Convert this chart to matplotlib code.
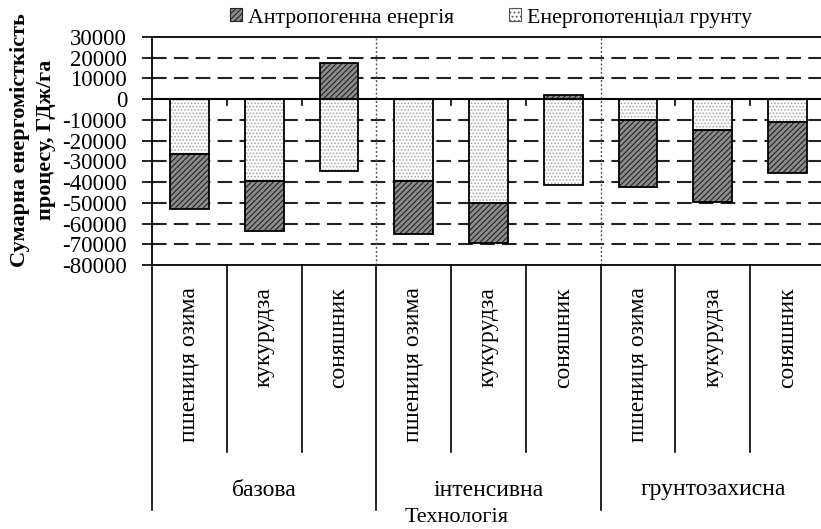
import numpy as np
import matplotlib
matplotlib.use("Agg")
import matplotlib.pyplot as plt
from matplotlib.patches import Patch

plt.rcParams['font.family'] = ['Liberation Serif', 'DejaVu Serif']

crops = ['пшениця озима', 'кукурудза', 'соняшник',
         'пшениця озима', 'кукурудза', 'соняшник',
         'пшениця озима', 'кукурудза', 'соняшник']
groups = ['базова', 'інтенсивна', 'грунтозахисна']
soil = np.array([-26500, -39500, -34500, -39500, -50000, -41500, -10000, -14800, -10800])
anthro = np.array([-26500, -24000, 17500, -25500, -19200, 2000, -32500, -34600, -24600])
yticks = list(range(-80000, 30001, 10000))
series_names = ['Антропогенна енергія', 'Енергопотенціал грунту']

W, H = 821, 529
fig = plt.figure(figsize=(W / 100, H / 100), dpi=100)
ax = fig.add_axes([152 / W, 1 - 265 / H, 670 / W, 228 / H])

x = np.arange(len(crops))
bw = 0.52

plt.rcParams['hatch.linewidth'] = 0.8
# light series (soil) from zero
ax.bar(x, soil, bw, color='white', edgecolor='#a8a8a8', hatch='.....', linewidth=0, zorder=3)
ax.bar(x, soil, bw, fill=False, edgecolor='black', linewidth=1.3, zorder=4)
# dark series stacked on the same side
bottom = np.where(anthro < 0, soil, 0)
ax.bar(x, anthro, bw, bottom=bottom, color='#8c8c8c', edgecolor='#222222', hatch='//////', linewidth=0, zorder=3)
ax.bar(x, anthro, bw, bottom=bottom, fill=False, edgecolor='black', linewidth=1.3, zorder=4)

ax.set_xlim(-0.5, 8.46)
ax.set_ylim(-80000, 30000)
ax.set_yticks(yticks)
ax.set_yticklabels([str(t) for t in yticks], fontsize=16.5)
ax.tick_params(axis='y', length=7, width=1.2, pad=11)
ax.set_xticks([])

for t in yticks:
    if t in (-80000, 0, 30000):
        continue
    ax.axhline(t, color='#222222', lw=1.5, ls=(0, (7, 3.5)), zorder=1)
ax.axhline(0, color='black', lw=1.5, zorder=5)

ax.spines['right'].set_visible(False)
for s in ['left', 'top', 'bottom']:
    ax.spines[s].set_linewidth(1.3)

# group separators (dotted)
for b in [2.5, 5.5]:
    ax.axvline(b, color='#555555', lw=1.0, ls=(0, (1.5, 1.5)), zorder=2)
# small ticks on zero line at category boundaries
for b in [0.5, 1.5, 3.5, 4.5, 6.5, 7.5]:
    ax.plot([b, b], [0, -3000], color='black', lw=1.2, zorder=5)

# multi-level category axis below
tr = ax.get_xaxis_transform()
y_cat = (265 - 452) / 228
y_grp = (265 - 510) / 228
for b in [0.5, 1.5, 3.5, 4.5, 6.5, 7.5]:
    ax.plot([b, b], [0, y_cat], transform=tr, color='black', lw=1.2, clip_on=False)
for b in [-0.5, 2.5, 5.5]:
    ax.plot([b, b], [0, y_grp], transform=tr, color='black', lw=1.2, clip_on=False)

for xi, c in zip(x, crops):
    ax.text(xi, (265 - 287) / 228, c, transform=tr, rotation=90, ha='center', va='top',
            fontsize=17)
for gi, g in enumerate(groups):
    ax.text(gi * 3 + 1, (265 - 490) / 228, g, transform=tr, ha='center', va='center', fontsize=17)
fig.text(457 / W, 1 - 518 / H, 'Технологія', ha='center', va='center', fontsize=16)

fig.text(33 / W, 1 - 140 / H, 'Сумарна енергомісткість\nпроцесу, ГДж/га', rotation=90,
         ha='center', va='center', fontsize=16, fontweight='bold', linespacing=1.4)

handles = [Patch(facecolor='#8c8c8c', edgecolor='#222222', hatch='//////', lw=0.8),
           Patch(facecolor='white', edgecolor='#555555', hatch='....', lw=0.8)]
fig.legend(handles, series_names, loc='center', bbox_to_anchor=(491 / W, 1 - 18 / H), ncol=2,
           frameon=False, fontsize=15.7, handlelength=0.55, handleheight=0.55, handletextpad=0.3,
           columnspacing=2.5, borderpad=0)

fig.savefig('out.png', dpi=100)
